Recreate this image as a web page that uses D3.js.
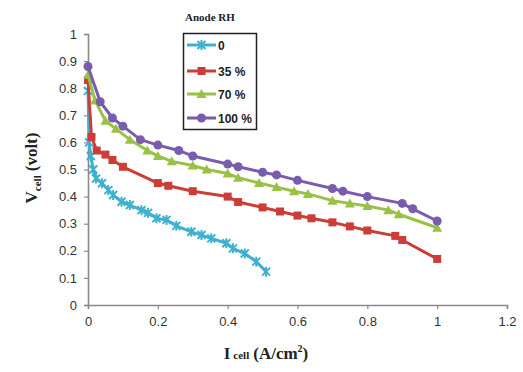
<!DOCTYPE html>
<html>
<head>
<meta charset="utf-8">
<script src="https://cdn.jsdelivr.net/npm/d3@7/dist/d3.min.js"></script>
<style>
  html, body { margin: 0; padding: 0; background: #fff; }
  svg { display: block; }
</style>
</head>
<body>
<svg id="chart" width="523" height="372"></svg>
<script>
// Polarization curves for different anode relative humidities
const seriesNames = ["0", "35 %", "70 %", "100 %"];

const iRH0   = [0, 0.003, 0.008, 0.015, 0.023, 0.04, 0.058, 0.072, 0.096, 0.12, 0.153, 0.172, 0.196, 0.225, 0.253, 0.296, 0.325, 0.353, 0.396, 0.415, 0.449, 0.482, 0.51];
const vRH0   = [0.79, 0.6, 0.55, 0.5, 0.467, 0.449, 0.424, 0.406, 0.381, 0.369, 0.35, 0.34, 0.32, 0.314, 0.292, 0.27, 0.258, 0.246, 0.228, 0.209, 0.19, 0.16, 0.123];

const iRH35  = [0, 0.01, 0.025, 0.05, 0.07, 0.1, 0.2, 0.23, 0.3, 0.4, 0.43, 0.5, 0.55, 0.6, 0.64, 0.7, 0.75, 0.8, 0.88, 0.9, 1.0];
const vRH35  = [0.83, 0.62, 0.57, 0.555, 0.535, 0.51, 0.45, 0.44, 0.42, 0.40, 0.38, 0.36, 0.345, 0.33, 0.32, 0.305, 0.29, 0.275, 0.255, 0.24, 0.17];

const iRH70  = [0, 0.02, 0.05, 0.08, 0.12, 0.17, 0.2, 0.24, 0.3, 0.34, 0.4, 0.43, 0.49, 0.54, 0.59, 0.63, 0.7, 0.75, 0.8, 0.86, 0.89, 1.0];
const vRH70  = [0.85, 0.755, 0.68, 0.65, 0.61, 0.57, 0.55, 0.53, 0.515, 0.50, 0.485, 0.47, 0.45, 0.435, 0.42, 0.41, 0.385, 0.375, 0.365, 0.35, 0.335, 0.285];

const iRH100 = [0, 0.035, 0.07, 0.1, 0.15, 0.2, 0.26, 0.3, 0.4, 0.43, 0.5, 0.54, 0.6, 0.7, 0.73, 0.8, 0.9, 0.93, 1.0];
const vRH100 = [0.88, 0.75, 0.69, 0.66, 0.61, 0.59, 0.57, 0.55, 0.52, 0.51, 0.49, 0.48, 0.46, 0.43, 0.42, 0.40, 0.375, 0.355, 0.31];

const xTicks = [0, 0.2, 0.4, 0.6, 0.8, 1, 1.2];
const yTicks = [0, 0.1, 0.2, 0.3, 0.4, 0.5, 0.6, 0.7, 0.8, 0.9, 1];

const colors  = ["#3fb1cf", "#cc3d38", "#98c146", "#7a5cae"];
const markers = ["star", "square", "triangle", "circle"];

const series = [
  { name: seriesNames[0], xs: iRH0,   ys: vRH0 },
  { name: seriesNames[1], xs: iRH35,  ys: vRH35 },
  { name: seriesNames[2], xs: iRH70,  ys: vRH70 },
  { name: seriesNames[3], xs: iRH100, ys: vRH100 }
].map((s, k) => ({
  ...s,
  color: colors[k],
  marker: markers[k],
  points: s.xs.map((x, j) => ({ x, y: s.ys[j] }))
}));

const svg = d3.select("#chart");
const margin = { left: 88, right: 16, top: 34, bottom: 67 };

const x = d3.scaleLinear().domain([0, 1.2]).range([margin.left, 507]);
const y = d3.scaleLinear().domain([0, 1]).range([305, margin.top]);

const axisColor = "#8a8a8a";
const tickFont = "'Liberation Sans', Arial, sans-serif";

// Axes
const gx = svg.append("g").attr("transform", `translate(0,${y(0)})`)
  .call(d3.axisBottom(x).tickValues(xTicks).tickSize(4).tickPadding(8)
    .tickFormat(d => d3.format("")(+d.toFixed(1))));
const gy = svg.append("g").attr("transform", `translate(${x(0)},0)`)
  .call(d3.axisLeft(y).tickValues(yTicks).tickSize(4).tickPadding(7)
    .tickFormat(d => d3.format("")(+d.toFixed(1))));

[gx, gy].forEach(g => {
  g.select(".domain").attr("stroke", axisColor).attr("stroke-width", 1.6);
  g.selectAll(".tick line").attr("stroke", axisColor).attr("stroke-width", 1.2);
  g.selectAll(".tick text").attr("fill", "#333").attr("font-size", 13)
    .attr("font-family", tickFont);
});

// Marker drawing
function drawMarker(g, type, color, size) {
  const h = size / 2;
  if (type === "square") {
    g.append("rect").attr("x", -h).attr("y", -h).attr("width", size).attr("height", size)
      .attr("fill", color);
  } else if (type === "circle") {
    g.append("circle").attr("r", h + 0.5).attr("fill", color);
  } else if (type === "triangle") {
    g.append("path").attr("d", `M0,${-h - 1}L${h + 1},${h}L${-h - 1},${h}Z`).attr("fill", color);
  } else if (type === "star") {
    g.append("path")
      .attr("d", `M${-h},${-h}L${h},${h}M${-h},${h}L${h},${-h}M0,${-h - 1}L0,${h + 1}`)
      .attr("stroke", color).attr("stroke-width", 2).attr("fill", "none");
  }
}

const line = d3.line().x(d => x(d.x)).y(d => y(d.y));

series.forEach(s => {
  const g = svg.append("g");
  g.append("path").datum(s.points).attr("d", line)
    .attr("fill", "none").attr("stroke", s.color).attr("stroke-width", 3)
    .attr("stroke-linejoin", "round");
  s.points.forEach(p => {
    const m = g.append("g").attr("transform", `translate(${x(p.x)},${y(p.y)})`);
    drawMarker(m, s.marker, s.color, 8);
  });
});

// Legend
const legend = svg.append("g");
legend.append("text").attr("x", 185).attr("y", 21)
  .attr("font-family", "'Liberation Serif', 'Times New Roman', serif")
  .attr("font-weight", "bold").attr("font-size", 11).attr("fill", "#222")
  .text("Anode RH");
legend.append("rect").attr("x", 183.5).attr("y", 33.5).attr("width", 73).attr("height", 96)
  .attr("fill", "#fff").attr("stroke", "#222").attr("stroke-width", 1.5);
const legendY = [45, 71, 94, 118];
series.forEach((s, k) => {
  const ly = legendY[k];
  legend.append("line").attr("x1", 187).attr("x2", 216).attr("y1", ly).attr("y2", ly)
    .attr("stroke", s.color).attr("stroke-width", 3);
  const m = legend.append("g").attr("transform", `translate(201.5,${ly})`);
  drawMarker(m, s.marker, s.color, 8);
  legend.append("text").attr("x", 218).attr("y", ly + 4.5)
    .attr("font-family", tickFont).attr("font-weight", "bold")
    .attr("font-size", 12).attr("fill", "#222").text(s.name);
});

// Axis titles
const titleFont = "'Liberation Serif', 'Times New Roman', serif";
const xt = svg.append("text").attr("x", 266).attr("y", 359).attr("text-anchor", "middle")
  .attr("font-family", titleFont).attr("font-weight", "bold").attr("font-size", 17).attr("fill", "#222");
xt.append("tspan").text("I");
xt.append("tspan").attr("font-size", 11).attr("dx", 3).text("cell");
xt.append("tspan").attr("dx", 4).text("(A/cm");
xt.append("tspan").attr("font-size", 10).attr("dy", -7).text("2");
xt.append("tspan").attr("dy", 7).text(")");

const yt = svg.append("text").attr("transform", "translate(37,168) rotate(-90)")
  .attr("text-anchor", "middle")
  .attr("font-family", titleFont).attr("font-weight", "bold").attr("font-size", 17).attr("fill", "#222");
yt.append("tspan").text("V");
yt.append("tspan").attr("font-size", 11).attr("dy", 4).text("cell");
yt.append("tspan").attr("dy", -4).attr("dx", 4).text("(volt)");
</script>
</body>
</html>
